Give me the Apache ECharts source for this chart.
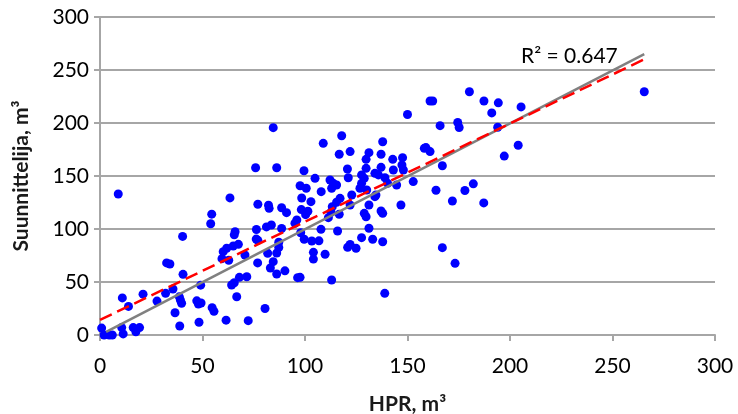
<!DOCTYPE html>
<html><head><meta charset="utf-8">
<script src="https://cdn.jsdelivr.net/npm/echarts@6/dist/echarts.min.js"></script>
<style>html,body{margin:0;padding:0;background:#fff}#c{width:738px;height:414px}</style>
</head><body><div id="c"></div>
<script>
const xTicks = [0, 50, 100, 150, 200, 250, 300];
const yTicks = [0, 50, 100, 150, 200, 250, 300];
const xTitle = 'HPR, m³';
const yTitle = 'Suunnittelija, m³';
const r2Text = 'R² = 0.647';
// [HPR, Suunnittelija]
const points = [
[0.8,6.5],[2,0],[4.5,0],[6,0],[10.6,7],[11.3,1],[8.9,133],[10.9,35],[13.9,27],[16.2,7],[17.5,3],[19.3,7],
[21,38.5],[27.8,32],[32,39.3],[35.6,43.4],[32.5,68],[34.1,67],[40.5,57.2],[40.3,93],[38.7,36],[39.2,33],
[39.8,30],[36.6,21],[38.9,8.5],[49.1,47],[47.2,32.2],[48,29.2],[49.3,30.2],[48.3,12],[54.7,25.8],[55.6,22.3],
[61.5,14],[72.3,13.5],[80.5,25],[54.5,114],[54,105],[59.5,72],[62.8,70.5],
[63.4,129.3],[77,123.3],[82.2,122.5],[82.5,119.5],[88.6,120],[91,115.4],[75.9,157.8],[84.5,195.6],[86.2,157.8],
[65.9,97.5],[65.5,94.5],[76.3,99.5],[81.2,102],[83.6,103.8],[88.6,100.5],[77,89.3],[76.2,90.5],[61.8,81.8],[65,84],
[67.5,85.5],[60.1,78.6],[70.7,75.5],[76.9,68],[81.8,77.1],[87.2,87.5],[87.2,82.6],[86.2,77.3],[84.5,69.2],
[83.1,63.2],[90.2,60.5],[86.2,57.5],[96.4,54.1],[71.6,55],[68,54.4],[65.5,49.3],[64.2,47.2],[66.7,36.1],
[96,108.5],[95.1,105.4],
[97.6,140.8],[100.6,138.4],[98.4,129.2],[102.9,125.8],[98.2,118.3],[101.4,116.7],[100.3,113.5],
[97.9,96.5],[107.8,99.7],[99.6,90.3],[103.3,88.7],[106.8,88.8],[104.1,78],[104.1,71.6],[109.8,76.2],[97.6,54.4],[113,51.9],
[99.5,155],[104.9,147.8],[112.2,146.2],[113.8,143.1],[115.4,141.5],[113,138.4],[107.9,135.2],[117.1,128.9],
[108.9,180.8],[117.9,188],[116.7,170.5],[122,173],[120.7,156.6],[121.1,148.4],
[111.4,110.7],[112.7,115.8],[113.3,121.1],[115.4,125.2],[116.7,113.9],
[115.9,98.1],[122,85.4],[120.8,82.7],[124.9,81.8],[127.6,91.8],[131.2,100.7],[133,90.3],[137.9,88],[138.9,39.3],
[122,122.6],[128.9,114.8],[129.8,111.6],[131.2,122.6],[134.1,130.5],[137.1,117],[137.9,114.8],[146.8,122.6],
[122.8,132.1],[126.8,138.4],[127.6,143.1],[130.1,136.8],[134.6,132.1],
[131.2,172],[129.8,165.7],[137.1,170.5],[142.8,165.7],[147.6,167.3],[147.3,160.4],[129.8,157.2],[137.1,158.2],
[143.1,155.7],[148,155.7],[127.6,151],[128.9,147.8],[134.1,152.5],[135.8,151],[139,148.4],[140.3,143.1],
[144.7,141.5],[152.8,144.7],[158.2,176.1],[137.9,182.3],[150,208],
[161,220.8],[162.3,220.8],[180.2,229.5],[187.3,220.8],[194.3,219],[191.1,209.5],[205.4,215.2],[165.9,197.5],
[174.5,200.5],[175.2,195.8],[194,196],[159,176.8],[161,173],[204,179],[197.2,168.8],[167,159.7],
[163.9,136.6],[171.9,126.4],[178,136.3],[182.1,142.6],[187.2,124.6],[167,82.4],[173.2,67.6],[265.5,229.5]
];
const oneToOne = [[3,3],[265.5,265]];
const regression = [[0,14.2],[265.5,260.1]];

const font = 'Lato, "Open Sans", sans-serif';
const chart = echarts.init(document.getElementById('c'), null, {renderer:'canvas'});
chart.setOption({
  animation:false,
  backgroundColor:'#fff',
  title:{text:r2Text,left:516,top:41,textStyle:{fontFamily:font,fontSize:21,fontWeight:'normal',color:'#000'}},
  grid:{left:100,right:23,top:17,bottom:79,containLabel:false,outerBoundsMode:'none'},
  xAxis:{type:'value',min:xTicks[0],max:xTicks[xTicks.length-1],interval:50,
    name:xTitle,nameLocation:'middle',nameGap:59,
    nameTextStyle:{fontFamily:font,fontSize:21,fontWeight:'bold',color:'#1a1a1a'},
    axisLine:{show:true,onZero:false,lineStyle:{color:'#a6a6a6',width:2}},
    axisTick:{show:true,length:6,lineStyle:{color:'#a6a6a6',width:2}},
    splitLine:{show:false},
    axisLabel:{fontFamily:font,fontSize:21,color:'#000',margin:21}},
  yAxis:{type:'value',min:yTicks[0],max:yTicks[yTicks.length-1],interval:50,
    name:yTitle,nameLocation:'middle',nameGap:68,
    nameTextStyle:{fontFamily:font,fontSize:21,fontWeight:'bold',color:'#1a1a1a'},
    axisLine:{show:true,lineStyle:{color:'#a6a6a6',width:2}},
    axisTick:{show:true,length:6,lineStyle:{color:'#a6a6a6',width:2}},
    splitLine:{show:true,lineStyle:{color:'#a6a6a6',width:2}},
    axisLabel:{fontFamily:font,fontSize:21,color:'#000',margin:11}},
  series:[
    {type:'scatter',data:points,symbolSize:9,itemStyle:{color:'#0000ff',opacity:1},z:2},
    {type:'line',data:oneToOne,symbol:'none',lineStyle:{color:'#808080',width:2.5},z:3},
    {type:'line',data:regression,symbol:'none',lineStyle:{color:'#ff0000',width:2.5,type:[13,6]},z:4}
  ]
});
</script></body></html>
